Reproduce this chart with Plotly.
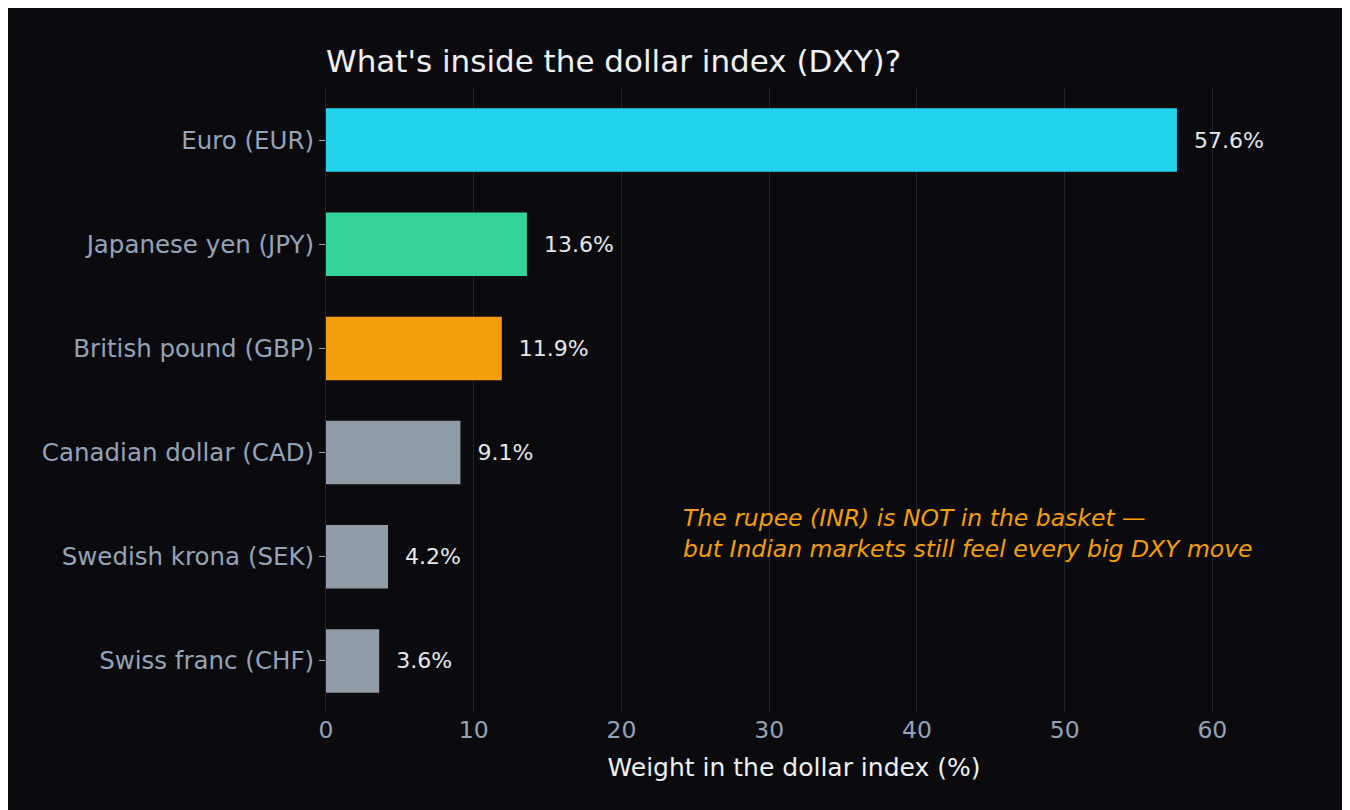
import plotly.graph_objects as go

# bottom-to-top order
currencies = ["Swiss franc (CHF)", "Swedish krona (SEK)", "Canadian dollar (CAD)",
              "British pound (GBP)", "Japanese yen (JPY)", "Euro (EUR)"]
weights = [3.6, 4.2, 9.1, 11.9, 13.6, 57.6]
colors = ["#8f9ba6", "#8f9ba6", "#8f9ba6", "#f59e0b", "#34d399", "#22d3ee"]

fig = go.Figure(go.Bar(
    x=weights,
    y=currencies,
    orientation="h",
    marker=dict(color=colors, line=dict(width=0)),
    width=0.61,
    text=[f"  {w}%" for w in weights],
    textposition="outside",
    textfont=dict(color="#e5e7eb", size=22),
    cliponaxis=False,
))

fig.add_annotation(
    x=24, y=1.22, xref="x", yref="y",
    text="<i>The rupee (INR) is NOT in the basket —<br>but Indian markets still feel every big DXY move</i>",
    showarrow=False, xanchor="left", align="left",
    font=dict(color="#f59e0b", size=23.5),
)

fig.update_layout(
    width=1350, height=810,
    paper_bgcolor="#0b0b0f", plot_bgcolor="#0b0b0f",
    font=dict(family="DejaVu Sans", color="#94a3b8", size=24),
    title=dict(text="What's inside the dollar index (DXY)?", x=318 / 1350, xanchor="left",
               y=0.948, font=dict(size=31, color="#eef0f3")),
    margin=dict(l=318, r=96, t=80, b=105),
    showlegend=False,
    xaxis=dict(
        range=[0, 63.36], dtick=10, showgrid=True, gridcolor="#1c2730", zeroline=False,
        title=dict(text="Weight in the dollar index (%)", font=dict(color="#eef0f3", size=25)),
        tickfont=dict(size=23.5),
    ),
    yaxis=dict(showgrid=False, ticks="outside", ticklen=6, tickcolor="#94a3b8",
               tickfont=dict(size=24.5), showline=True, linecolor="#1c2730"),
)

fig.write_html("out.html")
